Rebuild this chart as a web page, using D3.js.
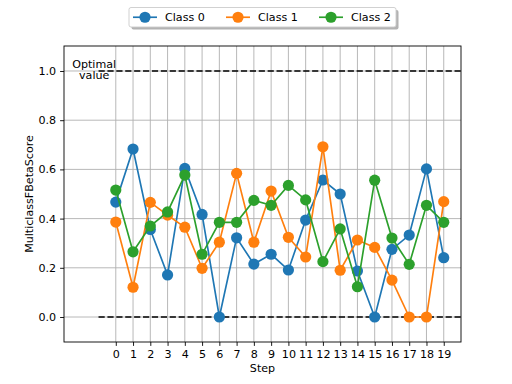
<!DOCTYPE html>
<html>
<head>
<meta charset="utf-8">
<script src="https://cdn.jsdelivr.net/npm/d3@7"></script>
<style>
  body { margin: 0; background: #fff; }
  text { font-family: "DejaVu Sans", sans-serif; }
</style>
</head>
<body>
<svg id="chart" width="512" height="384"></svg>
<script>
const width = 512;
const height = 384;

// values
const steps = d3.range(0, 20);
const classNames = ["Class 0", "Class 1", "Class 2"];
const class0 = [0.467, 0.683, 0.356, 0.171, 0.604, 0.417, 0.0, 0.322, 0.215, 0.255,
                0.191, 0.394, 0.557, 0.500, 0.187, 0.0, 0.275, 0.333, 0.602, 0.241];
const class1 = [0.386, 0.121, 0.466, 0.414, 0.365, 0.198, 0.304, 0.584, 0.304, 0.512,
                0.324, 0.244, 0.692, 0.190, 0.313, 0.283, 0.150, 0.0, 0.0, 0.469];
const class2 = [0.516, 0.265, 0.370, 0.427, 0.577, 0.255, 0.385, 0.385, 0.474, 0.454,
                0.535, 0.476, 0.225, 0.358, 0.123, 0.556, 0.321, 0.214, 0.454, 0.385];
const yTicks = [0.0, 0.2, 0.4, 0.6, 0.8, 1.0];
const optimal = [0.0, 1.0];
const colors = ["#1f77b4", "#ff7f0e", "#2ca02c"];

const margin = {top: 46, right: 51, bottom: 42, left: 64};

const svg = d3.select("#chart");

x = d3.scaleLinear()
    .domain([-3, 20])
    .range([margin.left, width - margin.right]);
y = d3.scaleLinear()
    .domain([-0.1016, 1.1016])
    .range([height - margin.bottom, margin.top]);

// grid
const grid = svg.append("g").attr("stroke", "#b0b0b0").attr("stroke-width", 0.9);
grid.selectAll("line.v").data(steps).join("line")
    .attr("x1", d => x(d)).attr("x2", d => x(d))
    .attr("y1", margin.top).attr("y2", height - margin.bottom);
grid.selectAll("line.h").data(yTicks).join("line")
    .attr("x1", margin.left).attr("x2", width - margin.right)
    .attr("y1", d => y(d)).attr("y2", d => y(d));

// optimal value lines
svg.append("g").selectAll("line").data(optimal).join("line")
    .attr("x1", x(-1)).attr("x2", x(20))
    .attr("y1", d => y(d)).attr("y2", d => y(d))
    .attr("stroke", "#000").attr("stroke-width", 1.67)
    .attr("stroke-dasharray", "6.2,2.7");

const tx = x(-1.25);
const optText = svg.append("text")
    .attr("x", tx).attr("y", y(1.0))
    .attr("text-anchor", "middle")
    .attr("font-size", 11.1);
optText.append("tspan").attr("x", tx).attr("dy", -3).text("Optimal");
optText.append("tspan").attr("x", tx).attr("dy", 11.5).text("value");

// series
const series = [class0, class1, class2];
const line = d3.line().x((d, i) => x(steps[i])).y(d => y(d));
series.forEach(function(vals, k){
    const g = svg.append("g");
    g.append("path").datum(vals)
        .attr("d", line)
        .attr("fill", "none")
        .attr("stroke", colors[k])
        .attr("stroke-width", 1.67);
    g.selectAll("circle").data(vals).join("circle")
        .attr("cx", (d, i) => x(steps[i]))
        .attr("cy", d => y(d))
        .attr("r", 5.6)
        .attr("fill", colors[k]);
});

// axes
const xAxis = svg.append("g")
    .attr("transform", `translate(0,${height - margin.bottom})`)
    .call(d3.axisBottom(x).tickValues(steps).tickSize(3.9).tickPadding(4).tickFormat(d3.format("d")));
const yAxis = svg.append("g")
    .attr("transform", `translate(${margin.left},0)`)
    .call(d3.axisLeft(y).tickValues(yTicks).tickSize(3.9).tickPadding(4).tickFormat(d3.format(".1f")));
[xAxis, yAxis].forEach(function(a){
    a.select(".domain").remove();
    a.selectAll("text").attr("font-size", 11.1).attr("fill", "#000")
        .attr("font-family", "DejaVu Sans, sans-serif");
    a.selectAll("line").attr("stroke", "#000").attr("stroke-width", 0.9);
});

svg.append("rect")
    .attr("x", margin.left).attr("y", margin.top)
    .attr("width", width - margin.left - margin.right)
    .attr("height", height - margin.top - margin.bottom)
    .attr("fill", "none").attr("stroke", "#000").attr("stroke-width", 0.9);

svg.append("text")
    .attr("x", (margin.left + width - margin.right) / 2).attr("y", 372)
    .attr("text-anchor", "middle").attr("font-size", 11.1).text("Step");
svg.append("text")
    .attr("transform", `translate(33,${(margin.top + height - margin.bottom) / 2}) rotate(-90)`)
    .attr("text-anchor", "middle").attr("font-size", 11.1).text("MulticlassFBetaScore");

// legend
const leg = svg.append("g").attr("transform", "translate(129,7.5)");
leg.append("rect").attr("x", 2.5).attr("y", 2.5).attr("width", 267).attr("height", 19.5)
    .attr("rx", 2).attr("fill", "#808080").attr("opacity", 0.6);
leg.append("rect").attr("width", 267).attr("height", 19.5)
    .attr("rx", 2).attr("fill", "#fff").attr("stroke", "#cccccc").attr("stroke-width", 0.9);
const offs = [4, 97, 190];
classNames.forEach(function(name, k){
    const e = leg.append("g").attr("transform", `translate(${offs[k]},0)`);
    e.append("line").attr("x1", 0).attr("x2", 24).attr("y1", 9.75).attr("y2", 9.75)
        .attr("stroke", colors[k]).attr("stroke-width", 1.67);
    e.append("circle").attr("cx", 12).attr("cy", 9.75).attr("r", 5.6).attr("fill", colors[k]);
    e.append("text").attr("x", 32).attr("y", 13.8).attr("font-size", 11.1).text(name);
});
</script>
</body>
</html>
